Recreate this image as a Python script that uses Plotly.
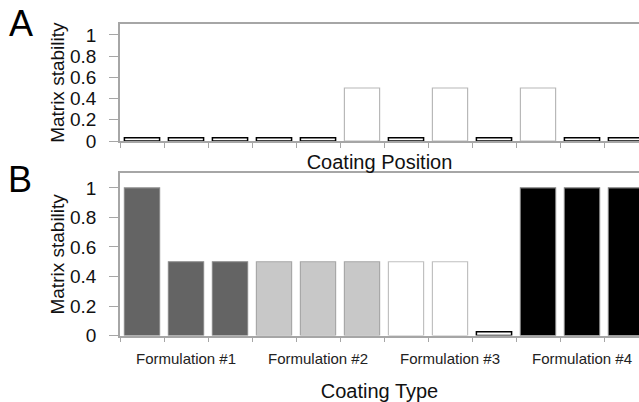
import plotly.graph_objects as go

# ---- data ----
positions = list(range(12))
a_values = [0.03, 0.03, 0.03, 0.03, 0.03, 0.5, 0.03, 0.5, 0.03, 0.5, 0.03, 0.03]
b_values = [1.0, 0.5, 0.5, 0.5, 0.5, 0.5, 0.5, 0.5, 0.025, 1.0, 1.0, 1.0]
formulation_labels = ["Formulation #1", "Formulation #2", "Formulation #3", "Formulation #4"]
formulation_members = [[0, 1, 2], [3, 4, 5], [6, 7, 8], [9, 10, 11]]
y_ticks = [0, 0.2, 0.4, 0.6, 0.8, 1]
y_ticktext = ["0", "0.2", "0.4", "0.6", "0.8", "1"]

# ---- styles ----
FONT = "Arial, 'Liberation Sans', sans-serif"
AX = "#a6a6a6"
formulation_fills = ["#646464", "#c8c8c8", "#ffffff", "#000000"]
formulation_lines = ["#8a8a8a", "#a8a8a8", "#c0c0c0", "#7a7a7a"]

b_fill = [None] * 12
b_line = [None] * 12
for f, members in enumerate(formulation_members):
    for m in members:
        b_fill[m] = formulation_fills[f]
        b_line[m] = formulation_lines[f]
# bars with (near) zero stability get a black outline
a_line = ["#000000" if v < 0.1 else "#b8b8b8" for v in a_values]
b_line = ["#000000" if v < 0.1 else c for v, c in zip(b_values, b_line)]
a_lw = [1.5 if v < 0.1 else 1.2 for v in a_values]
b_lw = [1.5 if v < 0.1 else 1.2 for v in b_values]

fig = go.Figure()
fig.add_trace(go.Bar(x=positions, y=a_values, marker=dict(color="#ffffff", line=dict(color=a_line, width=a_lw)),
                     width=0.8, xaxis="x", yaxis="y", showlegend=False))
fig.add_trace(go.Bar(x=positions, y=b_values, marker=dict(color=b_fill, line=dict(color=b_line, width=b_lw)),
                     width=0.8, xaxis="x2", yaxis="y2", showlegend=False))

W, H = 639, 402
left_px, right_px = 120, 639
pitch = 44.0
xmax = -0.5 + (right_px - left_px) / pitch
boundaries = [p - 0.5 for p in positions] + [positions[-1] + 0.5]
centers = [members[1] for members in formulation_members]

def px_y(y):
    return 1 - y / H

common_x = dict(range=[-0.5, xmax], showline=True, linecolor=AX, linewidth=1.5, mirror=True,
                showgrid=False, zeroline=False, ticks="",
                minor=dict(tickmode="array", tickvals=boundaries, ticks="outside", ticklen=5,
                           tickcolor=AX, tickwidth=1, showgrid=False),
                tickfont=dict(family=FONT, size=15, color="#222"))
common_y = dict(range=[0, 1.1], tickvals=y_ticks, ticktext=y_ticktext, ticks="outside", ticklen=9,
                tickcolor=AX, tickwidth=1.2, showline=True, linecolor=AX, linewidth=1.5,
                showgrid=False, zeroline=False, ticklabelstandoff=9,
                tickfont=dict(family=FONT, size=19, color="#111"),
                title=dict(text="Matrix stability", font=dict(family=FONT, size=19, color="#111"), standoff=0))

dom_a = [px_y(145), px_y(25)]
dom_b = [px_y(345), px_y(178)]
dom_x = [left_px / W, 1.0]

fig.update_layout(
    width=W, height=H,
    margin=dict(l=0, r=0, t=0, b=0),
    paper_bgcolor="white", plot_bgcolor="white",
    xaxis=dict(common_x, domain=dom_x, anchor="y", tickvals=[],
               title=dict(text="Coating Position", font=dict(family=FONT, size=20, color="#111"), standoff=10)),
    yaxis=dict(common_y, domain=dom_a, anchor="x"),
    xaxis2=dict(common_x, domain=dom_x, anchor="y2", tickvals=centers, ticktext=formulation_labels,
                ticklabelstandoff=9,
                title=dict(text="Coating Type", font=dict(family=FONT, size=20, color="#111"), standoff=20)),
    yaxis2=dict(common_y, domain=dom_b, anchor="x2"),
    annotations=[
        dict(text="A", x=21 / W, y=px_y(24), xref="paper", yref="paper", showarrow=False,
             font=dict(family=FONT, size=36, color="#000"), xanchor="center", yanchor="middle"),
        dict(text="B", x=20 / W, y=px_y(185), xref="paper", yref="paper", showarrow=False,
             font=dict(family=FONT, size=36, color="#000"), xanchor="center", yanchor="middle"),
    ],
)

fig.write_html("out.html", config={"displayModeBar": False},
               post_script="document.body.style.margin='0';")
